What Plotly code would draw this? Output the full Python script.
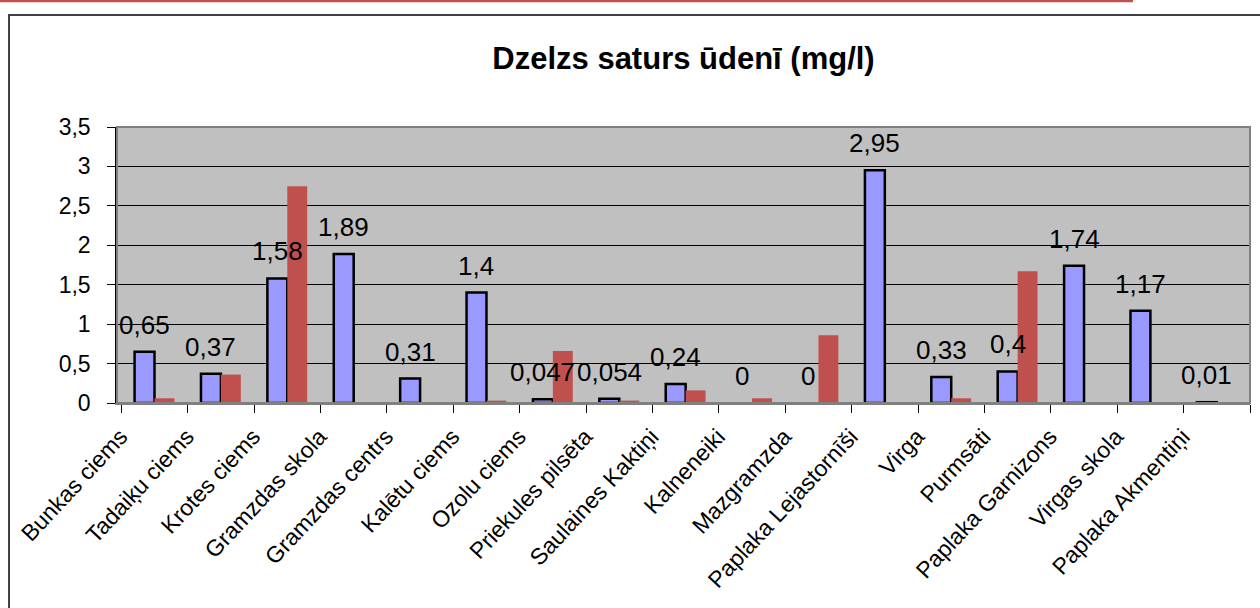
import plotly.graph_objects as go

categories = ["Bunkas ciems", "Tadaiķu ciems", "Krotes ciems", "Gramzdas skola",
              "Gramzdas centrs", "Kalētu ciems", "Ozolu ciems", "Priekules pilsēta",
              "Saulaines Kaktiņi", "Kalneneiki", "Mazgramzda", "Paplaka Lejastornīši",
              "Virga", "Purmsāti", "Paplaka Garnizons", "Virgas skola", "Paplaka Akmentiņi"]
blue_values = [0.65, 0.37, 1.58, 1.89, 0.31, 1.4, 0.047, 0.054, 0.24, 0, 0,
               2.95, 0.33, 0.4, 1.74, 1.17, 0.01]
red_values = [0.06, 0.36, 2.75, 0.01, 0.005, 0.03, 0.66, 0.03, 0.16, 0.06, 0.86,
              0, 0.06, 1.67, 0, 0, 0]
blue_labels = [("%g" % v).replace(".", ",") for v in blue_values]
y_ticks = [0, 0.5, 1, 1.5, 2, 2.5, 3, 3.5]

FONT = "Liberation Sans, Arial, sans-serif"

fig = go.Figure()
fig.add_trace(go.Bar(x=categories, y=blue_values, marker=dict(color="#9999ff",
                     line=dict(color="#000000", width=[2.5 if v > 0 else 0 for v in blue_values])),
                     name="blue"))
fig.add_trace(go.Bar(x=categories, y=red_values, marker=dict(color="#c0504d",
                     line=dict(width=0)), name="red"))

for c, v, lbl in zip(categories, blue_values, blue_labels):
    fig.add_annotation(x=c, y=v, text=lbl, showarrow=False, yanchor="bottom",
                       xanchor="center", xshift=-10, yshift=10,
                       font=dict(family=FONT, size=26, color="#000000"))

# outer chart frame and red top line
fig.add_shape(type="rect", xref="paper", yref="paper", x0=-0.0953, x1=1.02,
              y0=-0.8, y1=1.4058, line=dict(color="#404040", width=2), layer="below")
fig.add_shape(type="line", xref="paper", yref="paper", x0=-0.11, x1=0.8967,
              y0=1.4565, y1=1.4565, line=dict(color="#c0504d", width=2.5))

fig.update_layout(
    width=1260, height=608,
    margin=dict(l=117, r=10, t=127, b=205, autoexpand=False),
    paper_bgcolor="#ffffff", plot_bgcolor="#c0c0c0",
    barmode="group", bargap=0.4, bargroupgap=0,
    showlegend=False, separators=", ",
    font=dict(family=FONT, color="#000000"),
    title=dict(text="<b>Dzelzs saturs ūdenī (mg/l)</b>", x=0.5, xref="paper",
               xanchor="center", y=1 - 58 / 608, yref="container", yanchor="middle",
               font=dict(family=FONT, size=31, color="#000000")),
)
fig.update_xaxes(type="category", tickangle=-47, tickson="boundaries", automargin=False,
                 ticks="outside", ticklen=8, tickcolor="#000000",
                 showline=True, linecolor="#808080", linewidth=2, mirror=False,
                 tickfont=dict(family=FONT, size=23, color="#000000"),
                 showgrid=False, ticklabelshift=-34, ticklabelstandoff=9)
fig.update_yaxes(range=[0, 3.5], tickvals=y_ticks, ticks="outside", ticklen=8, automargin=False,
                 tickcolor="#000000", showline=True, linecolor="#000000", linewidth=1.5,
                 showgrid=True, gridcolor="#000000", gridwidth=1.2,
                 zeroline=True, zerolinecolor="#000000",
                 tickfont=dict(family=FONT, size=23, color="#000000"),
                 ticklabelstandoff=12)
# plot area border on top/right
fig.add_shape(type="rect", xref="paper", yref="paper", x0=0, x1=1, y0=0, y1=1,
              line=dict(color="#808080", width=2))

fig.write_html("out.html", config={"displayModeBar": False},
               post_script="document.body.style.margin='0';")
